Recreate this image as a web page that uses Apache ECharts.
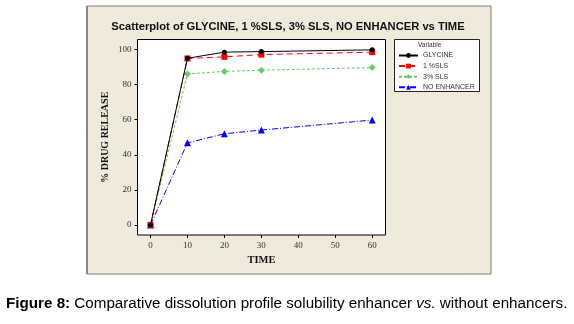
<!DOCTYPE html>
<html><head><meta charset="utf-8">
<script src="https://cdn.jsdelivr.net/npm/echarts@6/dist/echarts.min.js"></script>
<style>html,body{margin:0;padding:0;background:#fff}#c{width:574px;height:324px}</style>
</head><body><div id="c"></div>
<script>
const times = [0, 10, 20, 30, 60];
const glycine = [0, 95.0, 98.5, 98.8, 99.8];
const sls1 = [0, 94.9, 95.8, 97.1, 98.5];
const sls3 = [0, 86.1, 87.5, 88.2, 89.7];
const noEnhancer = [0, 46.8, 52.0, 54.1, 59.8];
const xTicks = [0, 10, 20, 30, 40, 50, 60];
const yTicks = [0, 20, 40, 60, 80, 100];
const seriesNames = ['GLYCINE', '1 %SLS', '3% SLS', 'NO ENHANCER'];

const pairs = v => times.map((t, i) => [t, v[i]]);
const chart = echarts.init(document.getElementById('c'), null, {renderer: 'canvas'});
const lbl = {fontFamily: 'Liberation Serif', fontSize: 9, color: '#333'};
chart.setOption({
  animation: false,
  backgroundColor: '#ffffff',
  graphic: [
    {type: 'rect', z: -10, shape: {x: 87, y: 6, width: 404, height: 268},
     style: {fill: '#EEEBDD', stroke: '#7a7a7a', lineWidth: 1}},
    {type: 'line', z: -9, shape: {x1: 87, y1: 6, x2: 87, y2: 274}, style: {stroke: '#888', lineWidth: 2}},
    {type: 'rect', z: -8, shape: {x: 394.5, y: 39.5, width: 85, height: 52},
     style: {fill: '#fff', stroke: '#222', lineWidth: 1}},
    {type: 'text', z: 10, left: 418, top: 42,
     style: {text: 'Variable', fontFamily: 'Liberation Sans', fontSize: 6.5, fill: '#333'}},
    {type: 'text', z: 10, left: 6, top: 296,
     style: {
       rich: {
         b: {fontFamily: 'Liberation Sans', fontSize: 15.2, fontWeight: 'bold', fill: '#000'},
         n: {fontFamily: 'Liberation Sans', fontSize: 15.2, fill: '#000'},
         i: {fontFamily: 'Liberation Sans', fontSize: 15.2, fontStyle: 'italic', fill: '#000'}
       },
       text: '{b|Figure 8:}{n| Comparative dissolution profile solubility enhancer }{i|vs.}{n| without enhancers.}'
     }}
  ],
  title: {
    text: 'Scatterplot of GLYCINE, 1 %SLS, 3% SLS, NO ENHANCER vs TIME',
    left: 288, top: 21, textAlign: 'center', padding: 0,
    textStyle: {fontFamily: 'Liberation Sans', fontWeight: 'bold', fontSize: 11.2, color: '#111'}
  },
  legend: {
    data: seriesNames, orient: 'vertical', left: 398, top: 52, padding: 0,
    itemWidth: 19, itemHeight: 6, itemGap: 3.6,
    textStyle: {fontFamily: 'Liberation Sans', fontSize: 7, color: '#333'}
  },
  grid: {left: 137.5, top: 39.5, right: 188.5, bottom: 89, show: true,
         borderColor: '#000', borderWidth: 1, backgroundColor: '#fff', containLabel: false},
  xAxis: {
    type: 'value', min: -3.52, max: 63.6,
    name: 'TIME', nameLocation: 'middle', nameGap: 18,
    nameTextStyle: {fontFamily: 'Liberation Serif', fontWeight: 'bold', fontSize: 10.5, color: '#111'},
    axisLine: {show: false, onZero: false}, splitLine: {show: false},
    axisTick: {show: true, length: 3, customValues: xTicks, lineStyle: {color: '#000'}},
    axisLabel: Object.assign({margin: 6, customValues: xTicks}, lbl)
  },
  yAxis: {
    type: 'value', min: -5.7, max: 105.7,
    name: '% DRUG RELEASE', nameLocation: 'middle', nameGap: 27,
    nameTextStyle: {fontFamily: 'Liberation Serif', fontWeight: 'bold', fontSize: 10, color: '#111'},
    axisLine: {show: false, onZero: false}, splitLine: {show: false},
    axisTick: {show: true, length: 3, customValues: yTicks, lineStyle: {color: '#000'}},
    axisLabel: Object.assign({margin: 6, customValues: yTicks}, lbl)
  },
  series: [
    {name: seriesNames[0], type: 'line', data: pairs(glycine), symbol: 'circle', symbolSize: 5,
     itemStyle: {color: '#000'}, lineStyle: {color: '#000', width: 1, type: 'solid'}, z: 5},
    {name: seriesNames[1], type: 'line', data: pairs(sls1), symbol: 'rect', symbolSize: 6,
     itemStyle: {color: '#FF0000'}, lineStyle: {color: '#FF0000', width: 1, type: [6, 4]}, z: 4},
    {name: seriesNames[2], type: 'line', data: pairs(sls3), symbol: 'diamond', symbolSize: 7,
     itemStyle: {color: '#66CC66'}, lineStyle: {color: '#66CC66', width: 1, type: [3, 2]}, z: 3},
    {name: seriesNames[3], type: 'line', data: pairs(noEnhancer), symbol: 'triangle', symbolSize: 7,
     itemStyle: {color: '#0000FF'}, lineStyle: {color: '#0000FF', width: 1, type: [6, 2, 1, 2]}, z: 2}
  ]
});
</script></body></html>
